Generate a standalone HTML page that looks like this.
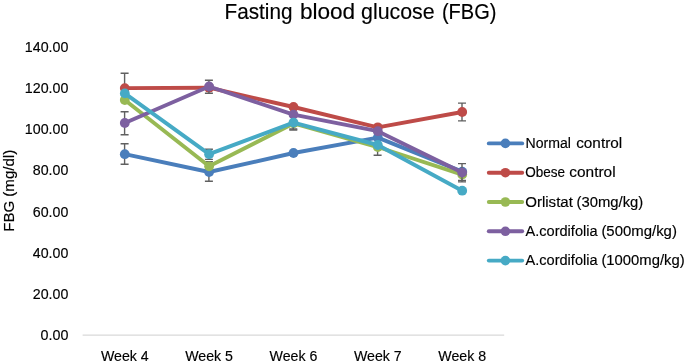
<!DOCTYPE html>
<html><head><meta charset="utf-8"><title>Fasting blood glucose (FBG)</title>
<style>
html,body{margin:0;padding:0;background:#fff;}
body{width:685px;height:363px;overflow:hidden;}
svg{display:block;will-change:transform;font-family:"Liberation Sans",sans-serif;}
text{fill:#000;stroke:#000;stroke-width:0.15px;}
</style></head><body>
<svg width="685" height="363" viewBox="0 0 685 363">
<rect width="685" height="363" fill="#fff"/>
<text x="224.5" y="19.4" font-size="21.6" textLength="68.0" lengthAdjust="spacingAndGlyphs">Fasting</text>
<text x="299.9" y="19.4" font-size="21.6" textLength="55.3" lengthAdjust="spacingAndGlyphs">blood</text>
<text x="361.0" y="19.4" font-size="21.6" textLength="73.7" lengthAdjust="spacingAndGlyphs">glucose</text>
<text x="441.9" y="19.4" font-size="21.6" textLength="54.5" lengthAdjust="spacingAndGlyphs">(FBG)</text>
<text x="40.5" y="340.0" font-size="14" textLength="27.9" lengthAdjust="spacingAndGlyphs">0.00</text>
<text x="32.8" y="298.8" font-size="14" textLength="35.6" lengthAdjust="spacingAndGlyphs">20.00</text>
<text x="32.8" y="257.7" font-size="14" textLength="35.6" lengthAdjust="spacingAndGlyphs">40.00</text>
<text x="32.8" y="216.5" font-size="14" textLength="35.6" lengthAdjust="spacingAndGlyphs">60.00</text>
<text x="32.8" y="175.3" font-size="14" textLength="35.6" lengthAdjust="spacingAndGlyphs">80.00</text>
<text x="24.8" y="134.1" font-size="14" textLength="43.6" lengthAdjust="spacingAndGlyphs">100.00</text>
<text x="24.8" y="93.0" font-size="14" textLength="43.6" lengthAdjust="spacingAndGlyphs">120.00</text>
<text x="24.8" y="51.8" font-size="14" textLength="43.6" lengthAdjust="spacingAndGlyphs">140.00</text>
<text transform="translate(14.3,231.8) rotate(-90)" font-size="14" textLength="82" lengthAdjust="spacingAndGlyphs">FBG (mg/dl)</text>
<line x1="82.6" y1="335.1" x2="504.2" y2="335.1" stroke="#D9D9D9" stroke-width="1.2"/>
<text x="100.9" y="360.8" font-size="14" textLength="47.8" lengthAdjust="spacingAndGlyphs">Week 4</text>
<text x="185.2" y="360.8" font-size="14" textLength="47.8" lengthAdjust="spacingAndGlyphs">Week 5</text>
<text x="269.6" y="360.8" font-size="14" textLength="47.8" lengthAdjust="spacingAndGlyphs">Week 6</text>
<text x="353.9" y="360.8" font-size="14" textLength="47.8" lengthAdjust="spacingAndGlyphs">Week 7</text>
<text x="438.3" y="360.8" font-size="14" textLength="47.8" lengthAdjust="spacingAndGlyphs">Week 8</text>
<g><path d="M124.6 143.7V164.2M120.6 143.7h8M120.6 164.2h8" stroke="#606060" stroke-width="1.4" fill="none"/>
<path d="M208.9 172.0V181.3M204.9 181.3h8" stroke="#606060" stroke-width="1.4" fill="none"/>
<path d="M462.0 171.6V180.5M458.0 180.5h8" stroke="#606060" stroke-width="1.4" fill="none"/>
<polyline points="124.8,154.2 209.1,172.0 293.5,153.0 377.8,137.6 462.2,171.6" fill="none" stroke="#4A7EBB" stroke-width="3.9" stroke-linejoin="round" stroke-linecap="round"/>
<circle cx="124.8" cy="154.2" r="4.9" fill="#4A7EBB"/>
<circle cx="209.1" cy="172.0" r="4.9" fill="#4A7EBB"/>
<circle cx="293.5" cy="153.0" r="4.9" fill="#4A7EBB"/>
<circle cx="377.8" cy="137.6" r="4.9" fill="#4A7EBB"/>
<circle cx="462.2" cy="171.6" r="4.9" fill="#4A7EBB"/></g>
<g><path d="M124.6 73.2V88.1M120.6 73.2h8" stroke="#606060" stroke-width="1.4" fill="none"/>
<path d="M462.0 103.1V120.9M458.0 103.1h8M458.0 120.9h8" stroke="#606060" stroke-width="1.4" fill="none"/>
<polyline points="124.8,88.1 209.1,87.7 293.5,107.0 377.8,127.3 462.2,112.0" fill="none" stroke="#BE4B48" stroke-width="3.9" stroke-linejoin="round" stroke-linecap="round"/>
<circle cx="124.8" cy="88.1" r="4.9" fill="#BE4B48"/>
<circle cx="209.1" cy="87.7" r="4.9" fill="#BE4B48"/>
<circle cx="293.5" cy="107.0" r="4.9" fill="#BE4B48"/>
<circle cx="377.8" cy="127.3" r="4.9" fill="#BE4B48"/>
<circle cx="462.2" cy="112.0" r="4.9" fill="#BE4B48"/></g>
<g><path d="M208.9 161.8V166.3M204.9 161.8h8" stroke="#606060" stroke-width="1.4" fill="none"/>
<path d="M293.3 123.4V129.0M289.3 129.0h8" stroke="#606060" stroke-width="1.4" fill="none"/>
<path d="M377.6 147.0V155.2M373.6 155.2h8" stroke="#606060" stroke-width="1.4" fill="none"/>
<polyline points="124.8,100.0 209.1,166.3 293.5,123.4 377.8,147.0 462.2,174.6" fill="none" stroke="#98B954" stroke-width="3.9" stroke-linejoin="round" stroke-linecap="round"/>
<circle cx="124.8" cy="100.0" r="4.9" fill="#98B954"/>
<circle cx="209.1" cy="166.3" r="4.9" fill="#98B954"/>
<circle cx="293.5" cy="123.4" r="4.9" fill="#98B954"/>
<circle cx="377.8" cy="147.0" r="4.9" fill="#98B954"/>
<circle cx="462.2" cy="174.6" r="4.9" fill="#98B954"/></g>
<g><path d="M124.6 111.8V134.8M120.6 111.8h8M120.6 134.8h8" stroke="#606060" stroke-width="1.4" fill="none"/>
<path d="M208.9 80.2V93.3M204.9 80.2h8M204.9 93.3h8" stroke="#606060" stroke-width="1.4" fill="none"/>
<path d="M462.0 163.6V181.9M458.0 163.6h8M458.0 181.9h8" stroke="#606060" stroke-width="1.4" fill="none"/>
<polyline points="124.8,123.0 209.1,86.5 293.5,114.6 377.8,131.2 462.2,172.6" fill="none" stroke="#7D60A0" stroke-width="3.9" stroke-linejoin="round" stroke-linecap="round"/>
<circle cx="124.8" cy="123.0" r="4.9" fill="#7D60A0"/>
<circle cx="209.1" cy="86.5" r="4.9" fill="#7D60A0"/>
<circle cx="293.5" cy="114.6" r="4.9" fill="#7D60A0"/>
<circle cx="377.8" cy="131.2" r="4.9" fill="#7D60A0"/>
<circle cx="462.2" cy="172.6" r="4.9" fill="#7D60A0"/></g>
<g><path d="M208.9 149.2V159.4M204.9 149.2h8M204.9 159.4h8" stroke="#606060" stroke-width="1.4" fill="none"/>
<path d="M293.3 122.6V130.0M289.3 130.0h8" stroke="#606060" stroke-width="1.4" fill="none"/>
<polyline points="124.8,93.4 209.1,154.2 293.5,122.6 377.8,145.0 462.2,190.7" fill="none" stroke="#46AAC5" stroke-width="3.9" stroke-linejoin="round" stroke-linecap="round"/>
<circle cx="124.8" cy="93.4" r="4.9" fill="#46AAC5"/>
<circle cx="209.1" cy="154.2" r="4.9" fill="#46AAC5"/>
<circle cx="293.5" cy="122.6" r="4.9" fill="#46AAC5"/>
<circle cx="377.8" cy="145.0" r="4.9" fill="#46AAC5"/>
<circle cx="462.2" cy="190.7" r="4.9" fill="#46AAC5"/></g>
<line x1="488.8" y1="143.4" x2="522.2" y2="143.4" stroke="#4A7EBB" stroke-width="3.9" stroke-linecap="round"/><circle cx="505.4" cy="143.4" r="4.8" fill="#4A7EBB"/><text x="525.6" y="148.0" font-size="14" textLength="45.4" lengthAdjust="spacingAndGlyphs">Normal</text><text x="576.2" y="148.0" font-size="14" textLength="46.0" lengthAdjust="spacingAndGlyphs">control</text>
<line x1="488.8" y1="172.7" x2="522.2" y2="172.7" stroke="#BE4B48" stroke-width="3.9" stroke-linecap="round"/><circle cx="505.4" cy="172.7" r="4.8" fill="#BE4B48"/><text x="525.3" y="177.3" font-size="14" textLength="39.8" lengthAdjust="spacingAndGlyphs">Obese</text><text x="569.3" y="177.3" font-size="14" textLength="46.3" lengthAdjust="spacingAndGlyphs">control</text>
<line x1="488.8" y1="202.0" x2="522.2" y2="202.0" stroke="#98B954" stroke-width="3.9" stroke-linecap="round"/><circle cx="505.4" cy="202.0" r="4.8" fill="#98B954"/><text x="525.2" y="206.6" font-size="14" textLength="47.7" lengthAdjust="spacingAndGlyphs">Orlistat</text><text x="576.5" y="206.6" font-size="14" textLength="66.75" lengthAdjust="spacingAndGlyphs">(30mg/kg)</text>
<line x1="488.8" y1="231.3" x2="522.2" y2="231.3" stroke="#7D60A0" stroke-width="3.9" stroke-linecap="round"/><circle cx="505.4" cy="231.3" r="4.8" fill="#7D60A0"/><text x="525.5" y="235.9" font-size="14" textLength="72.1" lengthAdjust="spacingAndGlyphs">A.cordifolia</text><text x="601.4" y="235.9" font-size="14" textLength="75.5" lengthAdjust="spacingAndGlyphs">(500mg/kg)</text>
<line x1="488.8" y1="260.6" x2="522.2" y2="260.6" stroke="#46AAC5" stroke-width="3.9" stroke-linecap="round"/><circle cx="505.4" cy="260.6" r="4.8" fill="#46AAC5"/><text x="525.5" y="265.2" font-size="14" textLength="72.1" lengthAdjust="spacingAndGlyphs">A.cordifolia</text><text x="601.4" y="265.2" font-size="14" textLength="83.2" lengthAdjust="spacingAndGlyphs">(1000mg/kg)</text>
</svg>
</body></html>
